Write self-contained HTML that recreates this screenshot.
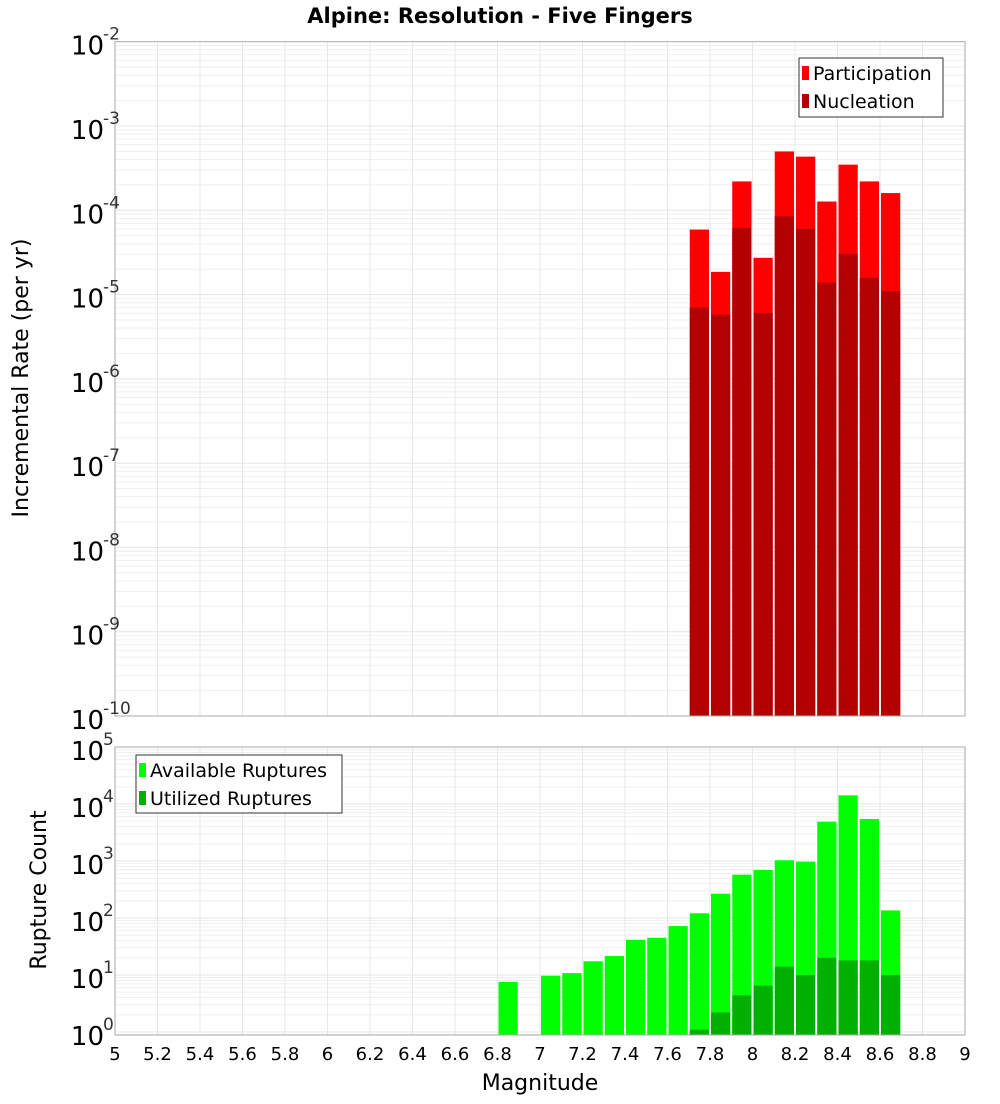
<!DOCTYPE html>
<html><head><meta charset="utf-8"><style>
body{margin:0;background:#fff;font-family:"DejaVu Sans","Liberation Sans",sans-serif}
</style></head><body>
<svg id="c" width="1000" height="1100" xmlns="http://www.w3.org/2000/svg" font-family="DejaVu Sans, Liberation Sans, sans-serif"></svg>
<script>
const topBins=[7.75,7.85,7.95,8.05,8.15,8.25,8.35,8.45,8.55,8.65];
const participation=[5.9e-5,1.86e-5,2.2e-4,2.73e-5,4.99e-4,4.33e-4,1.27e-4,3.48e-4,2.2e-4,1.6e-4];
const nucleation=[6.98e-6,5.77e-6,6.18e-5,6.04e-6,8.5e-5,6.0e-5,1.38e-5,3.04e-5,1.58e-5,1.1e-5];
const botBins=[6.85,7.05,7.15,7.25,7.35,7.45,7.55,7.65,7.75,7.85,7.95,8.05,8.15,8.25,8.35,8.45,8.55,8.65];
const available=[7.6,9.7,10.8,17.4,21.5,41.5,45,72,121,267,575,695,1030,972,4890,14200,5460,136];
const utilized=[0,0,0,0,0,0,0,0,1.1,2.2,4.4,6.5,14,10,20,18,18,10];
const xTicks=[5,5.2,5.4,5.6,5.8,6,6.2,6.4,6.6,6.8,7,7.2,7.4,7.6,7.8,8,8.2,8.4,8.6,8.8,9];
const topExp=[-2,-3,-4,-5,-6,-7,-8,-9,-10];
const botExp=[5,4,3,2,1,0];

const svg=document.getElementById('c');const NS='http://www.w3.org/2000/svg';
function el(t,a,p){const e=document.createElementNS(NS,t);for(const k in a)e.setAttribute(k,a[k]);(p||svg).appendChild(e);return e;}
const L=115,R=965;
const X=v=>L+(v-5)/4*(R-L);
const T0=41.7,T1=716;
const YT=v=>T0+(-2-Math.log10(v))*(T1-T0)/8;
const B0=747,B1=1035,BD=57;
const YB=v=>B0+(5-Math.log10(v))*BD;

function grid(y0,y1,yf,emin,emax){
  const g=el('g',{});
  for(let e=emin;e<emax;e++)for(let m=1;m<10;m++){const y=yf(m*Math.pow(10,e));if(y<y0-0.5||y>y1+0.5)continue;
    el('line',{x1:L,x2:R,y1:y,y2:y,stroke:m==1?'#e4e4e4':'#efefef','stroke-width':1},g);}
  xTicks.forEach(t=>el('line',{x1:X(t),x2:X(t),y1:y0,y2:y1,stroke:'#e8e8e8','stroke-width':1},g));
}
grid(T0,T1,YT,-10,-2);grid(B0,B1,YB,-1,5);

function bars(bins,vals,yf,base,fill,name){
  const g=el('g',{});
  bins.forEach((b,i)=>{if(vals[i]<=0)return;const y=Math.max(yf(vals[i]),0);
    const r=el('rect',{x:X(b-0.05)+1,y:y,width:X(b+0.05)-X(b-0.05)-2,height:base-y,fill:fill,stroke:'#ffb0b0','stroke-width':0},g);
    });
}
bars(topBins,participation,YT,T1,'#ff0000','participation');
bars(topBins,nucleation,YT,T1,'#b30000','nucleation');
bars(botBins,available,YB,B1,'#00ff00','available-ruptures');
bars(botBins,utilized,YB,B1,'#00b000','utilized-ruptures');

el('rect',{x:L,y:T0,width:R-L,height:T1-T0,fill:'none',stroke:'#aaa'});
el('rect',{x:L,y:B0,width:R-L,height:B1-B0,fill:'none',stroke:'#aaa'});

function ylabels(exps,yf,name){
  exps.forEach(e=>{const y=yf(Math.pow(10,e));
    const t=el('text',{x:104,y:y+13,'text-anchor':'end','font-size':26,fill:'#000'});
    
    t.textContent='10';
    const s=el('text',{x:103,y:y-2,'font-size':17,fill:'#333'});s.textContent=String(e);
    });
}
ylabels(topExp,YT,'top-y');ylabels(botExp,YB,'bottom-y');

xTicks.forEach(t=>{const tx=el('text',{x:X(t),y:1060,'text-anchor':'middle','font-size':18,fill:'#000'});
  tx.textContent=String(t);});

function text(x,y,s,attrs,name){const t=el('text',Object.assign({x:x,y:y,fill:'#000'},attrs));t.textContent=s;
  return t;}
text(500,23,'Alpine: Resolution - Five Fingers',{'text-anchor':'middle','font-size':21,'font-weight':'bold'},'chart-title');
text(540,1090,'Magnitude',{'text-anchor':'middle','font-size':22},'x-axis-title');
text(28,378,'Incremental Rate (per yr)',{'text-anchor':'middle','font-size':22,transform:'rotate(-90 28 378)'},'top-y-axis-title');
text(46,890,'Rupture Count',{'text-anchor':'middle','font-size':22,transform:'rotate(-90 46 890)'},'bottom-y-axis-title');

function legend(x,y,w,h,items,name){
  const g=el('g',{});
  el('rect',{x:x,y:y,width:w,height:h,fill:'#fff',stroke:'#333'},g);
  items.forEach((it,i)=>{const cy=y+15+i*28;
    el('rect',{x:x+3,y:cy-7,width:7,height:14,fill:it[1]},g);
    const t=el('text',{x:x+14,y:cy+7,'font-size':19,fill:'#000'},g);t.textContent=it[0];
    });
}
legend(799,58,144,59,[['Participation','#ff0000'],['Nucleation','#b30000']],'top-legend');
legend(136,755,206,58,[['Available Ruptures','#00ff00'],['Utilized Ruptures','#00b000']],'bottom-legend');
</script>
</body></html>
